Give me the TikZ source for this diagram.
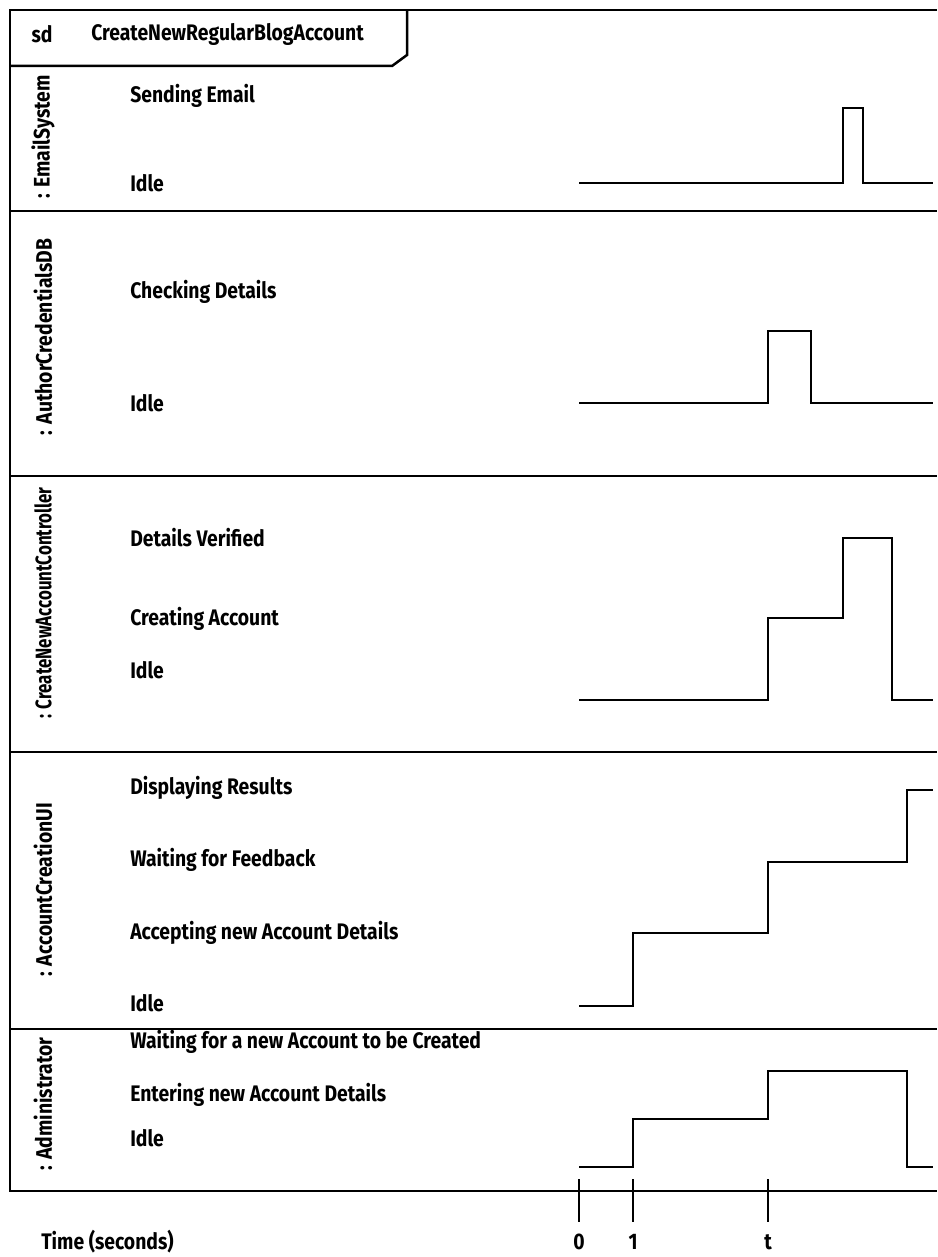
\documentclass[tikz,border=0pt]{standalone}
\usepackage{fontspec}
\setmainfont{Fira Sans}[FakeStretch=0.86]
\newfontfamily\narrowfont{Fira Sans}[FakeStretch=0.75]

\begin{document}
\begin{tikzpicture}[x=1pt, y=-1pt, line width=2.5pt,
  txt/.style={inner sep=0pt, font=\bfseries\fontsize{22.5}{22.5}\selectfont},
  state/.style={txt, anchor=west},
  lane/.style={txt, rotate=90},
  signal/.style={line width=2.6pt, line join=miter}]
  \useasboundingbox (0,0) rectangle (937,1257);

  % frame and header
  \draw (937,10) -- (10,10) -- (10,1191) -- (937,1191);
  \draw (407,10) -- (407,55) -- (392,66) -- (10,66);
  \node[txt] (sd) at (42,34) {sd};
  \node[txt, anchor=west] (name) at (90,34) {CreateNewRegularBlogAccount};

  % lane borders
  \foreach \y in {211,476,752,1029}
    \draw (10,\y) -- (937,\y);

  % lifelines
  \node[lane] (email) at (43,137) {: EmailSystem};
  \node[lane] (db) at (43,337) {: AuthorCredentialsDB};
  \node[lane, font=\narrowfont\bfseries\fontsize{22.5}{22.5}\selectfont] (ctrl) at (43,603)
    {: CreateNewAccountController};
  \node[lane] (ui) at (43,890) {: AccountCreationUI};
  \node[lane] (admin) at (43,1104) {: Administrator};

  % states
  \node[state] (es1) at (129,96) {Sending Email};
  \node[state] (es0) at (129,183) {Idle};
  \node[state] (db1) at (129,292) {Checking Details};
  \node[state] (db0) at (129,403) {Idle};
  \node[state] (ct2) at (129,538) {Details Verified};
  \node[state] (ct1) at (129,619) {Creating Account};
  \node[state] (ct0) at (129,670) {Idle};
  \node[state] (ui3) at (129,788) {Displaying Results};
  \node[state] (ui2) at (129,860) {Waiting for Feedback};
  \node[state] (ui1) at (129,933) {Accepting new Account Details};
  \node[state] (ui0) at (129,1003) {Idle};
  \node[state] (ad2) at (129,1042) {Waiting for a new Account to be Created};
  \node[state] (ad1) at (129,1095) {Entering new Account Details};
  \node[state] (ad0) at (129,1138) {Idle};

  % timelines
  \draw[signal] (579,183) -- (843,183) -- (843,108) -- (863,108) -- (863,183) -- (933,183);
  \draw[signal] (579,403) -- (768,403) -- (768,331) -- (811,331) -- (811,403) -- (933,403);
  \draw[signal] (579,700) -- (768,700) -- (768,618) -- (843,618) -- (843,538)
    -- (892,538) -- (892,700) -- (933,700);
  \draw[signal] (579,1006) -- (633,1006) -- (633,933) -- (768,933) -- (768,862)
    -- (907,862) -- (907,790) -- (933,790);
  \draw[signal] (579,1167) -- (633,1167) -- (633,1119) -- (768,1119) -- (768,1071)
    -- (907,1071) -- (907,1167) -- (933,1167);

  % time axis
  \foreach \x/\t [count=\i] in {579/0, 633/1, 768/t} {
    \draw (\x,1179) -- (\x,1222);
    \node[txt] (tick\i) at (\x,1242) {\t};
  }
  \node[state] (time) at (40,1242) {Time (seconds)};
\end{tikzpicture}
\end{document}
